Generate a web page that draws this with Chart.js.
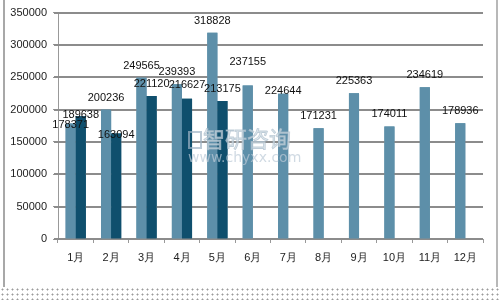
<!DOCTYPE html>
<html>
<head>
<meta charset="utf-8">
<script src="https://cdn.jsdelivr.net/npm/chart.js@4.4.0/dist/chart.umd.min.js"></script>
<style>
    body { margin: 0; background: #fff; }
    #wrap { position: relative; width: 500px; height: 300px; overflow: hidden; }
    #frame { position: absolute; left: 0; top: 0; width: 500px; height: 287px; }
    #frame:before { content: ""; position: absolute; left: 3px; top: 0; width: 2px; height: 287px; background: #a8a8a8; }
    #frame:after { content: ""; position: absolute; left: 496px; top: 0; width: 2px; height: 287px; background: #b8b8b8; }
    #dots {
        position: absolute; left: 0; top: 287px; width: 500px; height: 13px;
        background-image: radial-gradient(#9a9a9a 0.8px, transparent 1.2px);
        background-size: 5px 5px;
    }
</style>
</head>
<body>
<div id="wrap">
    <div id="frame"><canvas id="Chart" width="500" height="287"></canvas></div>
    <div id="dots"></div>
</div>
<script>
document.addEventListener("DOMContentLoaded", function () {

    const months = ['1月', '2月', '3月', '4月', '5月', '6月', '7月', '8月', '9月', '10月', '11月', '12月'];
    const seriesA = [178371, 200236, 249565, 239393, 318828, 237155, 224644, 171231, 225363, 174011, 234619, 178936];
    const seriesB = [189638, 163094, 221120, 216627, 213175, null, null, null, null, null, null, null];
    const yTickLabels = ['0', '50000', '100000', '150000', '200000', '250000', '300000', '350000'];

    // labels Excel nudged away from the default spot (dataset-index : shift in px)
    const labelShift = { '0-0': 13, '0-5': -12, '0-6': 9, '1-0': 11, '1-1': 13, '1-3': -2 };

    // grid lines, then bars again on top, then value labels and the watermark
    const overlay = {
        id: 'overlay',
        afterDraw(chart) {
            const ctx = chart.ctx;
            const area = chart.chartArea;
            const yScale = chart.scales.y;

            ctx.save();
            ctx.fillStyle = '#8c8c8c';
            yScale.ticks.forEach(t => {
                const y = Math.round(yScale.getPixelForValue(t.value));
                ctx.fillRect(area.left - 4, y - 1, area.right - area.left + 4, 2);
            });
            ctx.restore();

            chart.data.datasets.forEach((ds, di) => {
                chart.getDatasetMeta(di).data.forEach((bar, i) => {
                    if (ds.data[i] != null) bar.draw(ctx);
                });
            });

            ctx.save();
            ctx.font = '11px "Liberation Sans", Arial, sans-serif';
            ctx.fillStyle = '#111';
            ctx.textAlign = 'center';
            ctx.textBaseline = 'middle';
            chart.data.datasets.forEach((ds, di) => {
                chart.getDatasetMeta(di).data.forEach((bar, i) => {
                    if (ds.data[i] == null) return;
                    const shift = labelShift[di + '-' + i] || 0;
                    ctx.fillText(String(ds.data[i]), bar.x, bar.y - 12 + shift);
                });
            });
            ctx.restore();

            ctx.save();
            ctx.globalAlpha = 0.7;
            ctx.strokeStyle = '#9fb4c4';
            ctx.lineWidth = 2;
            ctx.strokeRect(189, 132, 12, 16);
            ctx.fillStyle = '#d3dee6';
            ctx.textBaseline = 'middle';
            ctx.textAlign = 'left';
            ctx.font = '22px "Noto Sans CJK SC", sans-serif';
            ctx.fillText('智研咨询', 203, 139);
            ctx.strokeStyle = '#a9bccb';
            ctx.lineWidth = 0.8;
            ctx.strokeText('智研咨询', 203, 139);
            ctx.font = '14px "DejaVu Sans", sans-serif';
            ctx.fillStyle = '#bccbd7';
            ctx.fillText('www.chyxx.com', 188, 158);
            ctx.restore();
        }
    };

    const config = {
        type: 'bar',
        data: {
            labels: months,
            datasets: [{
                data: seriesA,
                backgroundColor: '#5d8fa9',
                categoryPercentage: 0.57,
                barPercentage: 1
            }, {
                data: seriesB,
                backgroundColor: '#0f4f6d',
                categoryPercentage: 0.57,
                barPercentage: 1
            }]
        },
        plugins: [overlay],
        options: {
            responsive: false,
            animation: false,
            layout: { padding: { left: 0, right: 17, top: 10, bottom: 0 } },
            plugins: {
                legend: { display: false },
                tooltip: { enabled: false }
            },
            scales: {
                x: {
                    afterFit: (scale) => { scale.height = 48; },
                    grid: {
                        drawOnChartArea: false,
                        color: '#999999',
                        tickLength: 4
                    },
                    border: { color: '#999999', width: 1 },
                    ticks: {
                        color: '#222',
                        font: { family: '"Liberation Sans", Arial, sans-serif', size: 11 },
                        padding: 8,
                        maxRotation: 0
                    }
                },
                y: {
                    min: 0,
                    max: 350000,
                    afterFit: (scale) => { scale.width = 58; },
                    grid: {
                        drawOnChartArea: false,
                        color: '#999999',
                        tickLength: 5
                    },
                    border: { color: '#999999', width: 1 },
                    ticks: {
                        stepSize: 50000,
                        color: '#222',
                        font: { family: '"Liberation Sans", Arial, sans-serif', size: 11 },
                        padding: 6,
                        callback: (value, index) => yTickLabels[index]
                    }
                }
            }
        }
    };

    new Chart(document.getElementById('Chart'), config);
});
</script>
</body>
</html>
